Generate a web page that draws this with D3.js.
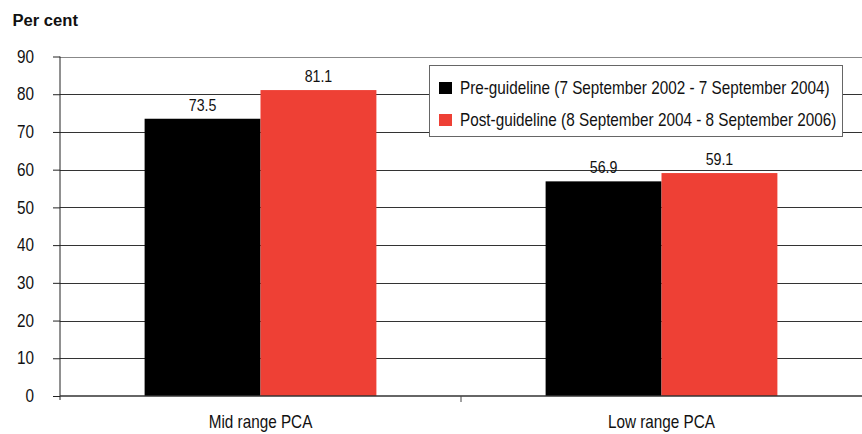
<!DOCTYPE html>
<html><head><meta charset="utf-8">
<script src="https://cdn.jsdelivr.net/npm/d3@7"></script>
<style>body{margin:0;background:#fff}svg{display:block;font-family:"Liberation Sans",Arial,sans-serif}</style>
</head><body><svg id="c" width="862" height="434"></svg>
<script>
const categories = ["Mid range PCA", "Low range PCA"];
const seriesNames = ["Pre-guideline (7 September 2002 - 7 September 2004)", "Post-guideline (8 September 2004 - 8 September 2006)"];
const preValues = [73.5, 56.9];
const postValues = [81.1, 59.1];
const yTicks = [0, 10, 20, 30, 40, 50, 60, 70, 80, 90];
const colors = ["#000000", "#EE4035"];

const SY = 1.15;
const svg = d3.select("#c");
const x0 = 60, x1 = 862, yTop = 56.5, yBot = 396;
const x = d3.scaleBand().domain(categories).range([x0, x1]).paddingInner(0).paddingOuter(0);
const xs = d3.scaleBand().domain([0, 1]).range([0, x.bandwidth()]).paddingOuter(0.73).paddingInner(0);
const y = d3.scaleLinear().domain([0, 90]).range([yBot, yTop]);

function txt(g, tx, ty, s, size, anchor, weight) {
  return g.append("text")
    .attr("transform", `translate(${tx},${ty}) scale(1,${SY})`)
    .attr("text-anchor", anchor || "start")
    .attr("font-size", size).attr("font-weight", weight || "normal")
    .attr("fill", "#111").text(s);
}

// gridlines
svg.append("g").selectAll("line").data(yTicks.filter(d => d > 0)).join("line")
  .attr("x1", x0).attr("x2", x1).attr("y1", d => Math.round(y(d)) + 0.5).attr("y2", d => Math.round(y(d)) + 0.5)
  .attr("stroke", d => d === 90 ? "#888" : "#333").attr("stroke-width", 1);

// bars
const series = [preValues, postValues];
const labG = svg.append("g");
series.forEach((vals, si) => {
  svg.append("g").selectAll("rect").data(categories).join("rect")
    .attr("x", c => x(c) + xs(si)).attr("width", xs.bandwidth())
    .attr("y", (c, i) => y(vals[i])).attr("height", (c, i) => y(0) - y(vals[i]))
    .attr("fill", colors[si]);
  categories.forEach((c, i) => {
    txt(labG, x(c) + xs(si) + xs.bandwidth() / 2, y(vals[i]) - 8, vals[i].toFixed(1), 14.2, "middle");
  });
});

// y axis
const yAxis = d3.axisLeft(y).tickValues(yTicks).tickSize(7).tickPadding(19);
const ga = svg.append("g").attr("transform", `translate(${x0},0)`).call(yAxis);
ga.select(".domain").attr("d", `M0,${yTop}V${yBot + 4}`).attr("stroke", "#222");
ga.selectAll(".tick line").attr("stroke", "#222");
ga.selectAll("text").attr("font-size", 15.3).attr("fill", "#111")
  .attr("font-family", "Liberation Sans, Arial, sans-serif")
  .attr("transform", `scale(1,${SY})`);

// x axis
const xAxis = d3.axisBottom(x).tickSize(0).tickPadding(0);
const gx = svg.append("g").attr("transform", `translate(0,${yBot})`).call(xAxis);
gx.select(".domain").attr("d", `M${x0},0H${x1}`).attr("stroke", "#333").attr("stroke-width", 1.5);
gx.selectAll(".tick text").remove();
gx.selectAll(".tick").each(function(c) {
  txt(d3.select(this), 0, 32, c, 15.3, "middle");
});
// category boundary ticks
svg.append("g").selectAll("line").data([categories[0]]).join("line")
  .attr("x1", c => x(c) + x.bandwidth()).attr("x2", c => x(c) + x.bandwidth())
  .attr("y1", yBot).attr("y2", yBot + 6).attr("stroke", "#444");

// title
txt(svg, 12.5, 26, "Per cent", 16.6, "start", "bold").attr("transform", "translate(12.5,26) scale(1,1.02)");

// legend
const lg = svg.append("g");
lg.append("rect").attr("x", 429.5).attr("y", 65.5).attr("width", 413).attr("height", 71)
  .attr("fill", "#fff").attr("stroke", "#666").attr("stroke-width", 1);
seriesNames.forEach((n, i) => {
  const cy = 88 + i * 32;
  lg.append("rect").attr("x", 439).attr("y", cy - 6).attr("width", 13).attr("height", 12).attr("fill", colors[i]);
  txt(lg, 460, cy + 6, n, 15.3, "start");
});
</script></body></html>
